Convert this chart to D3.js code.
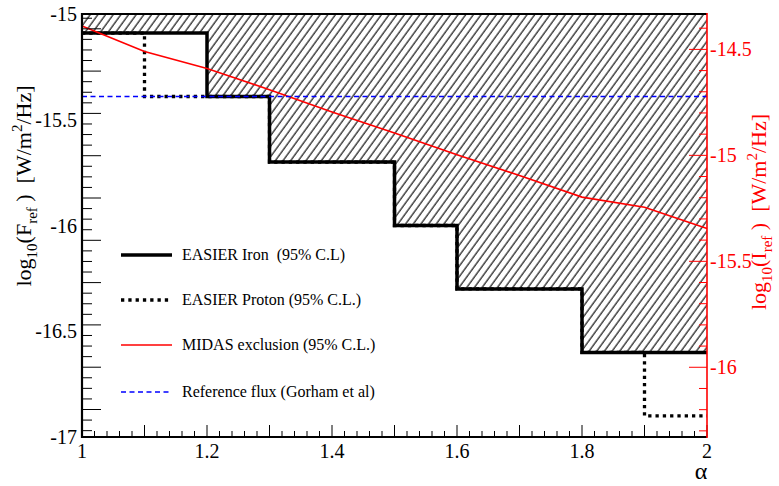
<!DOCTYPE html>
<html><head><meta charset="utf-8">
<script src="https://cdn.jsdelivr.net/npm/d3@7"></script>
<style>body{margin:0;background:#fff}svg{display:block}</style>
</head><body><svg id="c" width="779" height="486" style="font-family:'Liberation Serif'"></svg>
<script>
// ---- data ----
const ironEdges = [1.0, 1.2, 1.3, 1.5, 1.6, 1.8, 2.0];
const ironValues = [-15.09, -15.39, -15.70, -16.00, -16.30, -16.60];
const protonEdges = [1.0, 1.1, 1.2, 1.3, 1.5, 1.6, 1.8, 1.9, 2.0];
const protonValues = [-15.09, -15.39, -15.39, -15.70, -16.00, -16.30, -16.60, -16.90];
const midasAlpha = [1.0, 1.1, 1.2, 1.3, 1.4, 1.5, 1.6, 1.7, 1.8, 1.9, 2.0];
const midasValues = [-14.39, -14.51, -14.59, -14.69, -14.795, -14.895, -14.997, -15.095, -15.197, -15.245, -15.345];
const referenceFlux = -15.39;
const xTickLabels = [1, 1.2, 1.4, 1.6, 1.8, 2];
const leftTickLabels = [-15, -15.5, -16, -16.5, -17];
const rightTickLabels = [-14.5, -15, -15.5, -16];
const legendLabels = ["EASIER Iron  (95% C.L)", "EASIER Proton (95% C.L.)", "MIDAS exclusion (95% C.L.)", "Reference flux (Gorham et al)"];

const FONT = '"Liberation Serif"';
const svg = d3.select("#c");
const L = 82, R = 707, T = 14, B = 437;
const x = d3.scaleLinear().domain([1, 2]).range([L, R]);
const yL = d3.scaleLinear().domain([-17, -15]).range([B, T]);
const yR = d3.scaleLinear().domain([-16.329, -14.333]).range([B, T]);

// hatch pattern
const defs = svg.append("defs");
const pat = defs.append("pattern").attr("id", "hatch").attr("patternUnits", "userSpaceOnUse")
  .attr("width", 6.2).attr("height", 20).attr("patternTransform", "rotate(36)");
pat.append("line").attr("x1", 1).attr("y1", 0).attr("x2", 1).attr("y2", 20)
  .attr("stroke", "#000").attr("stroke-width", 1.1);

function steps(edges, vals) {
  const pts = [];
  vals.forEach((v, i) => { pts.push([edges[i], v]); pts.push([edges[i + 1], v]); });
  return pts;
}
const ironPts = steps(ironEdges, ironValues);
const protonPts = steps(protonEdges, protonValues);

// hatched area
svg.append("path").datum(ironPts)
  .attr("d", d3.area().x(d => x(d[0])).y0(T).y1(d => yL(d[1])))
  .attr("fill", "url(#hatch)");

const lineL = d3.line().x(d => x(d[0])).y(d => yL(d[1]));
// iron
svg.append("path").datum(ironPts).attr("d", lineL)
  .attr("fill", "none").attr("stroke", "#000").attr("stroke-width", 3.5);
// proton
svg.append("path").datum(protonPts).attr("d", lineL)
  .attr("fill", "none").attr("stroke", "#000").attr("stroke-width", 3.3).attr("stroke-dasharray", "3.3,4");
// midas
svg.append("path").datum(midasAlpha.map((a, i) => [a, midasValues[i]]))
  .attr("d", d3.line().x(d => x(d[0])).y(d => yR(d[1])))
  .attr("fill", "none").attr("stroke", "#ff0000").attr("stroke-width", 1.6);
// reference
svg.append("line").attr("x1", x(1)).attr("x2", x(2)).attr("y1", yL(referenceFlux)).attr("y2", yL(referenceFlux))
  .attr("stroke", "#0000ff").attr("stroke-width", 1.6).attr("stroke-dasharray", "5,3.5");

// frame top
svg.append("line").attr("x1", L).attr("x2", R).attr("y1", T).attr("y2", T).attr("stroke", "#000").attr("stroke-width", 2);

// x axis
const xAxis = svg.append("g");
xAxis.append("line").attr("x1", L - 1).attr("x2", R).attr("y1", B).attr("y2", B).attr("stroke", "#000").attr("stroke-width", 2.2);
d3.range(0, 51).forEach(i => {
  const v = 1 + i * 0.02;
  const major = i % 5 === 0;
  xAxis.append("line").attr("x1", x(v)).attr("x2", x(v)).attr("y1", B).attr("y2", B - (major ? 12 : 6))
    .attr("stroke", "#000").attr("stroke-width", 1);
});
xTickLabels.forEach(v => {
  xAxis.append("text").attr("x", x(v)).attr("y", 458).attr("text-anchor", "middle")
    .style("font-family", FONT).attr("font-size", 20).text(String(v));
});
svg.append("text").attr("x", 701).attr("y", 479).attr("text-anchor", "middle")
  .style("font-family", FONT).attr("font-size", 24).text("α");

// left axis
const lAxis = svg.append("g");
lAxis.append("line").attr("x1", L).attr("x2", L).attr("y1", T - 1).attr("y2", B + 1).attr("stroke", "#000").attr("stroke-width", 2.2);
d3.range(-5, 35).forEach(k => {
  const v = -15.27 - k * 0.05;
  if (v > -15.0 || v < -17.0) return;
  const major = ((k % 4) + 4) % 4 === 0;
  lAxis.append("line").attr("x1", L).attr("x2", L + (major ? 19 : 10)).attr("y1", yL(v)).attr("y2", yL(v))
    .attr("stroke", "#000").attr("stroke-width", 1);
});
leftTickLabels.forEach(v => {
  lAxis.append("text").attr("x", 77).attr("y", yL(v) + 7).attr("text-anchor", "end")
    .style("font-family", FONT).attr("font-size", 20).text(String(v));
});

// right axis
const rAxis = svg.append("g");
rAxis.append("line").attr("x1", R).attr("x2", R).attr("y1", T - 1).attr("y2", B + 1).attr("stroke", "#ff0000").attr("stroke-width", 1.6);
d3.range(0, 20).forEach(k => {
  const v = -14.4 - k * 0.1;
  if (v < -16.33) return;
  const major = Math.abs(v * 2 - Math.round(v * 2)) < 1e-6;
  rAxis.append("line").attr("x1", R).attr("x2", R - (major ? 18 : 8)).attr("y1", yR(v)).attr("y2", yR(v))
    .attr("stroke", "#ff0000").attr("stroke-width", 1);
});
rightTickLabels.forEach(v => {
  rAxis.append("text").attr("x", 710).attr("y", yR(v) + 7).attr("text-anchor", "start")
    .style("font-family", FONT).attr("font-size", 20).attr("fill", "#ff0000").text(String(v));
});

// axis titles
function title(xp, yp, letter, color) {
  const t = svg.append("text").attr("transform", `translate(${xp},${yp}) rotate(-90)`)
    .attr("text-anchor", "middle").style("font-family", FONT).attr("font-size", 22).attr("fill", color)
    .style("white-space", "pre");
  t.append("tspan").text("log");
  t.append("tspan").attr("font-size", 15).attr("dy", 6).text("10");
  t.append("tspan").attr("dy", -6).text("(" + letter);
  t.append("tspan").attr("font-size", 15).attr("dy", 6).text("ref");
  t.append("tspan").attr("dy", -6).text(" )  [W/m");
  t.append("tspan").attr("font-size", 15).attr("dy", -9).text("2");
  t.append("tspan").attr("dy", 9).text("/Hz]");
}
title(31, 186, "F", "#000");
title(766, 212, "I", "#ff0000");

// legend
const legY = [255, 300, 345, 392];
const lg = svg.append("g");
const styles = [
  {stroke: "#000", w: 3.5, dash: null},
  {stroke: "#000", w: 3.3, dash: "3.3,4"},
  {stroke: "#ff0000", w: 1.6, dash: null},
  {stroke: "#0000ff", w: 1.6, dash: "5,3.5"}
];
legendLabels.forEach((lab, i) => {
  lg.append("line").attr("x1", 121).attr("x2", 172).attr("y1", legY[i]).attr("y2", legY[i])
    .attr("stroke", styles[i].stroke).attr("stroke-width", styles[i].w)
    .attr("stroke-dasharray", styles[i].dash);
  lg.append("text").attr("x", 182).attr("y", legY[i] + 5).style("font-family", FONT)
    .attr("font-size", 16).style("white-space", "pre").text(lab);
});
</script></body></html>
